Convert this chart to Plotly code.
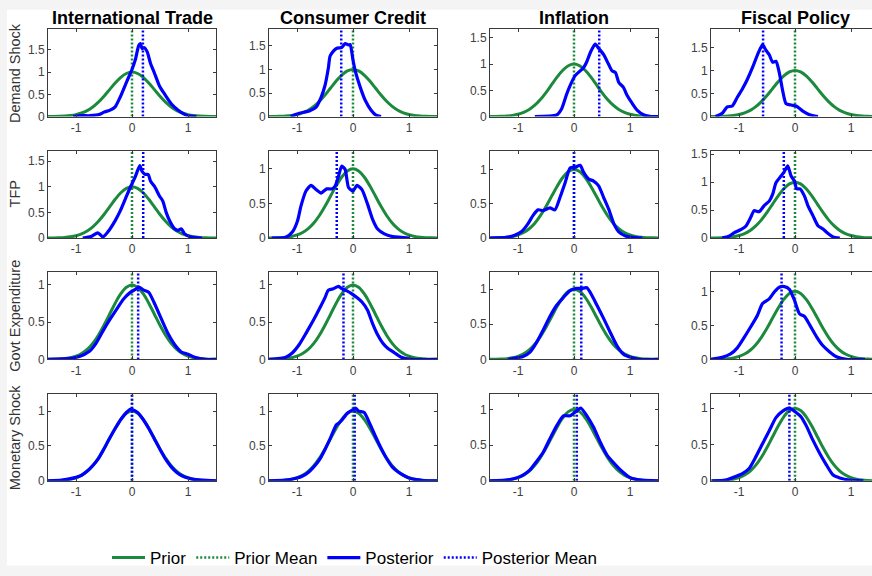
import plotly.graph_objects as go
from plotly.subplots import make_subplots

# ---- labels ----
SECTORS = ["International Trade", "Consumer Credit", "Inflation", "Fiscal Policy"]
SHOCKS = ["Demand Shock", "TFP", "Govt Expenditure", "Monetary Shock"]

# ---- prior density (normalised to a peak of 1), same in every panel ----
PRIOR_X = [-1.5, -1.4, -1.3, -1.2, -1.1, -1.0, -0.9, -0.8, -0.7, -0.6, -0.5, -0.4, -0.3, -0.2, -0.1,
           0.0, 0.1, 0.2, 0.3, 0.4, 0.5, 0.6, 0.7, 0.8, 0.9, 1.0, 1.1, 1.2, 1.3, 1.4, 1.5]
PRIOR_Y = [0.001, 0.002, 0.005, 0.011, 0.023, 0.044, 0.080, 0.135, 0.216, 0.325, 0.458, 0.607, 0.755, 0.882, 0.969,
           1.0, 0.969, 0.882, 0.755, 0.607, 0.458, 0.325, 0.216, 0.135, 0.080, 0.044, 0.023, 0.011, 0.005, 0.002, 0.001]
PRIOR_MEAN = 0.0

# ---- posterior densities: row = shock, column = sector ----
demand_trade_x = [-1.05, -0.9, -0.75, -0.58, -0.5, -0.4, -0.3, -0.21, -0.09, 0.0, 0.06, 0.12, 0.15, 0.18, 0.22,
                  0.27, 0.33, 0.40, 0.49, 0.58, 0.70, 0.82, 0.94, 1.05, 1.15]
demand_trade_y = [0.0, 0.02, 0.02, 0.05, 0.1, 0.14, 0.22, 0.44, 0.8, 1.06, 1.28, 1.6, 1.64, 1.53, 1.55,
                  1.46, 1.2, 0.98, 0.69, 0.51, 0.29, 0.15, 0.05, 0.01, 0.0]
demand_credit_x = [-1.11, -0.96, -0.78, -0.66, -0.57, -0.5, -0.44, -0.41, -0.35, -0.29, -0.2, -0.14, -0.08, -0.05,
                   0.0, 0.04, 0.13, 0.22, 0.32, 0.41, 0.5]
demand_credit_y = [0.0, 0.07, 0.12, 0.2, 0.41, 0.66, 1.03, 1.28, 1.39, 1.45, 1.47, 1.55, 1.52, 1.53,
                   1.2, 0.97, 0.62, 0.34, 0.14, 0.03, 0.0]
demand_infl_x = [-0.7, -0.31, -0.22, -0.13, -0.07, 0.02, 0.11, 0.17, 0.23, 0.30, 0.38, 0.44, 0.53, 0.62, 0.68,
                 0.74, 0.80, 0.88, 0.95, 1.04, 1.13, 1.25, 1.37, 1.52]
demand_infl_y = [0.0, 0.03, 0.15, 0.43, 0.59, 0.78, 0.87, 0.93, 1.05, 1.24, 1.38, 1.3, 1.18, 0.99, 0.87,
                 0.84, 0.65, 0.56, 0.4, 0.25, 0.12, 0.03, 0.0, 0.0]
demand_fiscal_x = [-1.42, -1.3, -1.21, -1.12, -1.03, -0.94, -0.85, -0.76, -0.67, -0.58, -0.52, -0.46, -0.4, -0.34,
                   -0.28, -0.22, -0.16, -0.07, 0.02, 0.14, 0.26, 0.41]
demand_fiscal_y = [0.0, 0.07, 0.21, 0.23, 0.42, 0.6, 0.81, 1.06, 1.34, 1.56, 1.44, 1.34, 1.18, 1.2,
                   0.95, 0.56, 0.28, 0.25, 0.23, 0.12, 0.04, 0.0]

tfp_trade_x = [-0.88, -0.73, -0.61, -0.52, -0.43, -0.3, -0.21, -0.12, -0.03, 0.06, 0.14, 0.18, 0.24, 0.29, 0.33,
               0.40, 0.49, 0.55, 0.61, 0.67, 0.76, 0.82, 0.88, 0.94, 1.06, 1.25]
tfp_trade_y = [0.0, 0.03, 0.1, 0.02, 0.12, 0.34, 0.53, 0.76, 0.99, 1.2, 1.41, 1.3, 1.24, 1.24, 1.11,
               1.01, 0.82, 0.72, 0.5, 0.34, 0.18, 0.15, 0.18, 0.08, 0.02, 0.0]
tfp_credit_x = [-1.45, -1.2, -1.08, -0.99, -0.93, -0.84, -0.75, -0.66, -0.57, -0.47, -0.38, -0.32, -0.26, -0.2,
                -0.14, -0.08, 0.0, 0.07, 0.16, 0.26, 0.35, 0.44, 0.56, 0.71, 1.02]
tfp_credit_y = [0.0, 0.01, 0.09, 0.25, 0.46, 0.68, 0.76, 0.7, 0.65, 0.71, 0.71, 0.75, 0.89, 1.04,
                0.99, 0.73, 0.68, 0.76, 0.7, 0.49, 0.27, 0.13, 0.06, 0.02, 0.0]
tfp_infl_x = [-1.51, -1.21, -1.06, -0.94, -0.82, -0.73, -0.64, -0.55, -0.43, -0.34, -0.25, -0.16, -0.07, 0.02,
              0.11, 0.17, 0.26, 0.35, 0.44, 0.53, 0.62, 0.71, 0.80, 0.92, 1.07, 1.22]
tfp_infl_y = [0.0, 0.01, 0.04, 0.09, 0.21, 0.33, 0.41, 0.4, 0.44, 0.41, 0.59, 0.8, 1.02, 1.03,
              1.06, 0.96, 0.86, 0.83, 0.76, 0.59, 0.42, 0.21, 0.09, 0.03, 0.005, 0.0]
tfp_fiscal_x = [-1.3, -1.18, -1.09, -0.97, -0.88, -0.79, -0.73, -0.64, -0.55, -0.46, -0.4, -0.34, -0.25, -0.19,
                -0.13, -0.07, -0.01, 0.03, 0.09, 0.17, 0.23, 0.32, 0.41, 0.5, 0.59, 0.68, 0.8]
tfp_fiscal_y = [0.0, 0.03, 0.09, 0.15, 0.21, 0.37, 0.49, 0.47, 0.58, 0.66, 0.78, 0.99, 1.11, 1.19,
                1.29, 1.11, 1.02, 0.88, 0.88, 0.75, 0.58, 0.4, 0.22, 0.16, 0.08, 0.02, 0.0]

govt_trade_x = [-1.5, -1.17, -0.94, -0.76, -0.64, -0.52, -0.40, -0.27, -0.15, -0.03, 0.06, 0.12, 0.21, 0.30,
                0.39, 0.52, 0.64, 0.76, 0.88, 1.0, 1.12, 1.31, 1.5]
govt_trade_y = [0.0, 0.01, 0.04, 0.11, 0.22, 0.38, 0.53, 0.68, 0.81, 0.9, 0.94, 0.97, 0.93, 0.9,
                0.77, 0.55, 0.35, 0.2, 0.1, 0.07, 0.03, 0.0, 0.0]
govt_credit_x = [-1.52, -1.2, -1.08, -0.96, -0.84, -0.72, -0.6, -0.5, -0.44, -0.35, -0.26, -0.2, -0.11, -0.02,
                 0.07, 0.16, 0.26, 0.35, 0.44, 0.53, 0.62, 0.74, 0.86, 1.05, 1.5]
govt_credit_y = [0.0, 0.03, 0.09, 0.2, 0.35, 0.51, 0.68, 0.83, 0.93, 0.95, 0.98, 0.95, 0.92, 0.88,
                 0.83, 0.77, 0.66, 0.48, 0.33, 0.22, 0.15, 0.09, 0.03, 0.0, 0.0]
govt_infl_x = [-1.18, -0.91, -0.79, -0.67, -0.55, -0.43, -0.31, -0.19, -0.07, 0.05, 0.14, 0.23, 0.32, 0.41,
               0.53, 0.65, 0.77, 0.89, 1.01, 1.16, 1.5]
govt_infl_y = [0.0, 0.04, 0.1, 0.24, 0.42, 0.61, 0.77, 0.88, 0.98, 1.01, 1.01, 1.02, 0.91, 0.77,
               0.58, 0.38, 0.19, 0.07, 0.03, 0.0, 0.0]
govt_fiscal_x = [-1.51, -1.3, -1.15, -1.03, -0.91, -0.79, -0.67, -0.58, -0.46, -0.37, -0.28, -0.19, -0.1, -0.01,
                 0.08, 0.17, 0.26, 0.38, 0.5, 0.62, 0.74, 0.92, 1.25]
govt_fiscal_y = [0.0, 0.03, 0.08, 0.17, 0.32, 0.48, 0.65, 0.82, 0.89, 0.99, 1.06, 1.07, 1.03, 0.87,
                 0.67, 0.63, 0.51, 0.34, 0.2, 0.11, 0.04, 0.0, 0.0]

monetary_trade_x = [-1.5, -1.25, -1.0, -0.9, -0.8, -0.7, -0.6, -0.5, -0.4, -0.3, -0.2, -0.1, -0.02, 0.1, 0.2,
                    0.3, 0.4, 0.5, 0.6, 0.7, 0.8, 0.9, 1.0, 1.1, 1.25, 1.5]
monetary_trade_y = [0.0, 0.01, 0.05, 0.08, 0.14, 0.22, 0.32, 0.46, 0.61, 0.75, 0.88, 0.98, 1.03, 0.98, 0.88,
                    0.75, 0.6, 0.45, 0.31, 0.2, 0.12, 0.07, 0.04, 0.02, 0.01, 0.0]
monetary_credit_x = [-1.5, -1.2, -1.0, -0.9, -0.8, -0.7, -0.6, -0.5, -0.4, -0.3, -0.25, -0.2, -0.1, 0.0, 0.05,
                     0.1, 0.2, 0.3, 0.4, 0.5, 0.6, 0.7, 0.8, 0.9, 1.0, 1.1, 1.25, 1.5]
monetary_credit_y = [0.0, 0.01, 0.04, 0.07, 0.12, 0.2, 0.3, 0.45, 0.62, 0.8, 0.83, 0.87, 0.97, 1.02, 1.04,
                     1.0, 0.98, 0.82, 0.64, 0.47, 0.32, 0.2, 0.13, 0.08, 0.04, 0.02, 0.005, 0.0]
monetary_infl_x = [-1.5, -1.21, -1.03, -0.91, -0.79, -0.67, -0.55, -0.43, -0.31, -0.19, -0.07, 0.05, 0.12, 0.23,
                   0.35, 0.47, 0.59, 0.77, 0.86, 1.01, 1.2, 1.5]
monetary_infl_y = [0.0, 0.01, 0.04, 0.08, 0.15, 0.27, 0.4, 0.59, 0.77, 0.91, 0.91, 0.98, 1.02, 0.91,
                   0.75, 0.54, 0.36, 0.2, 0.13, 0.04, 0.01, 0.0]
monetary_fiscal_x = [-1.48, -1.24, -1.06, -0.94, -0.82, -0.7, -0.58, -0.46, -0.34, -0.22, -0.1, 0.02, 0.11, 0.2,
                     0.32, 0.44, 0.56, 0.68, 0.8, 0.98, 1.22]
monetary_fiscal_y = [0.0, 0.01, 0.06, 0.1, 0.17, 0.33, 0.51, 0.69, 0.87, 0.96, 1.0, 0.94, 0.88, 0.76,
                     0.56, 0.38, 0.22, 0.08, 0.04, 0.01, 0.0]

POSTERIOR = [
    [(demand_trade_x, demand_trade_y), (demand_credit_x, demand_credit_y),
     (demand_infl_x, demand_infl_y), (demand_fiscal_x, demand_fiscal_y)],
    [(tfp_trade_x, tfp_trade_y), (tfp_credit_x, tfp_credit_y),
     (tfp_infl_x, tfp_infl_y), (tfp_fiscal_x, tfp_fiscal_y)],
    [(govt_trade_x, govt_trade_y), (govt_credit_x, govt_credit_y),
     (govt_infl_x, govt_infl_y), (govt_fiscal_x, govt_fiscal_y)],
    [(monetary_trade_x, monetary_trade_y), (monetary_credit_x, monetary_credit_y),
     (monetary_infl_x, monetary_infl_y), (monetary_fiscal_x, monetary_fiscal_y)],
]

# posterior means, per shock (row) across sectors (columns)
POST_MEAN_DEMAND = [0.195, -0.21, 0.45, -0.57]
POST_MEAN_TFP = [0.2, -0.29, 0.0, -0.2]
POST_MEAN_GOVT = [0.11, -0.17, 0.13, -0.24]
POST_MEAN_MONETARY = [0.0, 0.03, 0.05, -0.1]
POST_MEANS = [POST_MEAN_DEMAND, POST_MEAN_TFP, POST_MEAN_GOVT, POST_MEAN_MONETARY]

# y-axis upper limits
YTOP_DEMAND = [1.96, 1.85, 1.66, 1.89]
YTOP_TFP = [1.70, 1.26, 1.27, 1.56]
YTOP_GOVT = [1.17, 1.17, 1.24, 1.28]
YTOP_MONETARY = [1.25, 1.25, 1.22, 1.20]
YTOPS = [YTOP_DEMAND, YTOP_TFP, YTOP_GOVT, YTOP_MONETARY]

X_TICKS = [-1, 0, 1]
X_TICK_TEXT = ["-1", "0", "1"]
Y_TICKS = [0, 0.5, 1, 1.5]
Y_TICK_TEXT = ["0", "0.5", "1", "1.5"]

GREEN = "#1b8a3c"
BLUE = "#0000ff"
AXIS = "#3a3a3a"
FONT = "Liberation Sans"
W, H = 872, 576

# pixel layout of the grid
COL_LEFT = [48, 269, 490, 711]
COL_W = 168
ROW_TOP = [27, 151, 275, 399]
ROW_H = 89

fig = make_subplots(rows=4, cols=4)

for r in range(4):
    for c in range(4):
        first = (r == 0 and c == 0)
        top = YTOPS[r][c]
        px, py = POSTERIOR[r][c]
        fig.add_trace(go.Scatter(x=PRIOR_X, y=PRIOR_Y, mode="lines", name="Prior",
                                 line=dict(color=GREEN, width=3, shape="spline", smoothing=1),
                                 legendgroup="prior", showlegend=first, hoverinfo="skip"),
                      row=r + 1, col=c + 1)
        fig.add_trace(go.Scatter(x=[PRIOR_MEAN, PRIOR_MEAN], y=[0, top], mode="lines", name="Prior Mean",
                                 line=dict(color=GREEN, width=2.5, dash="2px,2px"),
                                 legendgroup="pmean", showlegend=first, hoverinfo="skip"),
                      row=r + 1, col=c + 1)
        fig.add_trace(go.Scatter(x=px, y=py, mode="lines", name="Posterior",
                                 line=dict(color=BLUE, width=3.2, shape="spline", smoothing=0.6),
                                 legendgroup="post", showlegend=first, hoverinfo="skip"),
                      row=r + 1, col=c + 1)
        m = POST_MEANS[r][c]
        fig.add_trace(go.Scatter(x=[m, m], y=[0, top], mode="lines", name="Posterior Mean",
                                 line=dict(color=BLUE, width=2.5, dash="2px,2px"),
                                 legendgroup="postmean", showlegend=first, hoverinfo="skip"),
                      row=r + 1, col=c + 1)

        idx = r * 4 + c + 1
        xa = "xaxis" if idx == 1 else f"xaxis{idx}"
        ya = "yaxis" if idx == 1 else f"yaxis{idx}"
        x0 = COL_LEFT[c] / W
        x1 = min((COL_LEFT[c] + COL_W) / W, 1.0)
        xmax = -1.5 + 3.0 * (x1 * W - COL_LEFT[c]) / COL_W
        y1 = 1 - ROW_TOP[r] / H
        y0 = 1 - (ROW_TOP[r] + ROW_H) / H
        fig.layout[xa].update(domain=[x0, x1], range=[-1.5, xmax], tickvals=X_TICKS, ticktext=X_TICK_TEXT,
                              ticks="inside", ticklen=3, tickcolor=AXIS, showline=True,
                              linecolor=AXIS, linewidth=1, mirror="ticks", showgrid=False,
                              zeroline=False, tickfont=dict(family=FONT, size=12, color="#404040"))
        fig.layout[ya].update(domain=[y0, y1], range=[0, top], tickvals=Y_TICKS, ticktext=Y_TICK_TEXT,
                              ticks="inside", ticklen=3, tickcolor=AXIS, showline=True,
                              linecolor=AXIS, linewidth=1, mirror=("ticks" if c < 3 else False),
                              showgrid=False, zeroline=False,
                              tickfont=dict(family=FONT, size=12, color="#404040"))

annotations = []
for c, name in enumerate(SECTORS):
    annotations.append(dict(text=f"<b>{name}</b>", x=(COL_LEFT[c] + COL_W / 2) / W, y=1 - 15 / H,
                            xref="paper", yref="paper", showarrow=False, xanchor="center", yanchor="middle",
                            font=dict(family=FONT, size=18, color="#000000")))
for r, name in enumerate(SHOCKS):
    annotations.append(dict(text=name, x=15 / W, y=1 - (ROW_TOP[r] + ROW_H / 2) / H,
                            xref="paper", yref="paper", showarrow=False, textangle=-90,
                            xanchor="center", yanchor="middle",
                            font=dict(family=FONT, size=14.5, color="#333333")))

fig.update_layout(
    width=W, height=H,
    margin=dict(l=0, r=0, t=0, b=0),
    paper_bgcolor="#f4f4f4",
    plot_bgcolor="#ffffff",
    annotations=annotations,
    shapes=[dict(type="rect", xref="paper", yref="paper", x0=7 / W, x1=1.01, y0=1.5 / H, y1=1 - 7 / H,
                 fillcolor="#ffffff", line=dict(width=0), layer="below")],
    legend=dict(orientation="h", x=107 / W, xanchor="left", y=9 / H, yanchor="middle",
                font=dict(family=FONT, size=17, color="#000000"),
                bgcolor="rgba(0,0,0,0)", itemwidth=33, tracegroupgap=0),
    showlegend=True,
)

fig.write_html("out.html")
